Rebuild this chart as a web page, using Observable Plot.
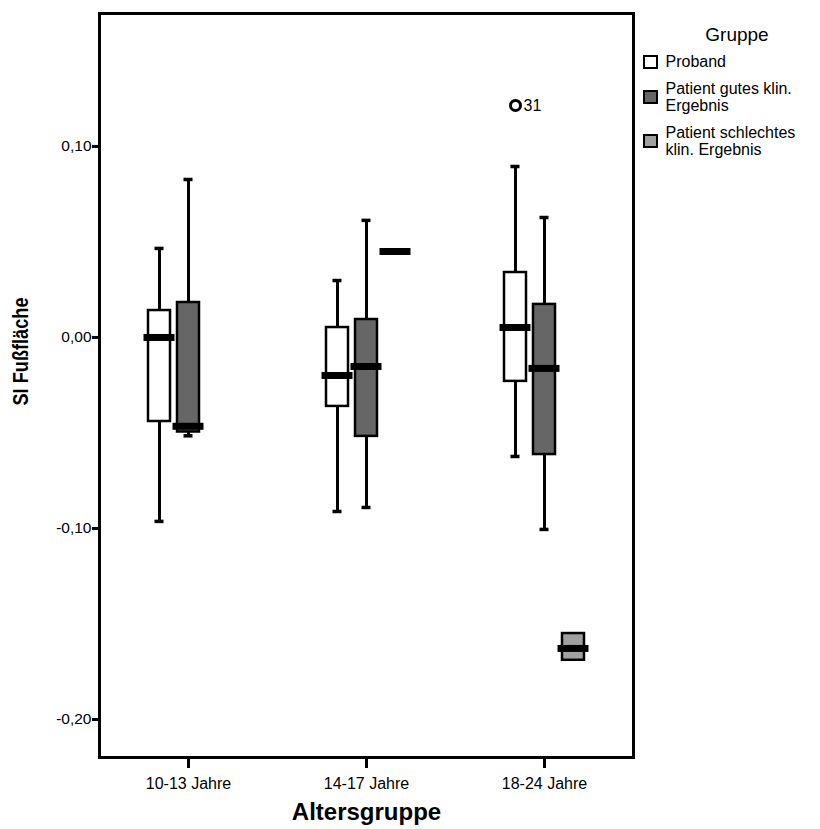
<!DOCTYPE html>
<html>
<head>
<meta charset="utf-8">
<script src="https://cdn.jsdelivr.net/npm/d3@7"></script>
<script src="https://cdn.jsdelivr.net/npm/@observablehq/plot@0.6"></script>
<style>
  body { margin: 0; background: #fff; font-family: "Liberation Sans", Arial, sans-serif; }
  #wrap { position: relative; width: 820px; height: 829px; }
  #legend { position: absolute; left: 643px; top: 22px; width: 177px; color: #000; }
  #legend .title { font-size: 19px; line-height: 26px; text-align: center; width: 188px; margin-bottom: 5px; }
  #legend .item { display: flex; align-items: center; font-size: 16px; line-height: 17.5px; margin-bottom: 9px; white-space: nowrap; }
  #legend .sw { width: 10.5px; height: 10.5px; border: 2.5px solid #000; margin-right: 8px; flex: none; }
</style>
</head>
<body>
<div id="wrap"><div id="chart"></div><div id="legend"></div></div>
<script>
const ages = ["10-13 Jahre", "14-17 Jahre", "18-24 Jahre"];
const groups = ["Proband", "Patient gutes klin. Ergebnis", "Patient schlechtes klin. Ergebnis"];
const groupLegendLines = [["Proband"], ["Patient gutes klin.", "Ergebnis"], ["Patient schlechtes", "klin. Ergebnis"]];
const groupColors = ["#ffffff", "#666666", "#a0a0a0"];

// Per group, per age group: whisker low, Q1, median, Q3, whisker high
const probandLow  = [-0.0963, -0.0911, -0.0623];
const probandQ1   = [-0.0440, -0.0361, -0.0230];
const probandMed  = [ 0.0000, -0.0199,  0.0052];
const probandQ3   = [ 0.0141,  0.0052,  0.0340];
const probandHigh = [ 0.0466,  0.0298,  0.0895];

const gutLow  = [-0.0515, -0.0890, -0.1005];
const gutQ1   = [-0.0495, -0.0518, -0.0613];
const gutMed  = [-0.0465, -0.0152, -0.0162];
const gutQ3   = [ 0.0183,  0.0094,  0.0173];
const gutHigh = [ 0.0827,  0.0613,  0.0628];

const schlechtLow  = [null, null, null];
const schlechtQ1   = [null, 0.0450, -0.1690];
const schlechtMed  = [null, 0.0450, -0.1628];
const schlechtQ3   = [null, 0.0450, -0.1550];
const schlechtHigh = [null, null, null];

const outlierAge = ["18-24 Jahre"];
const outlierGroup = [0];
const outlierValue = [0.1215];
const outlierLabel = ["31"];

const yTicks = [0.10, 0.00, -0.10, -0.20];

const stats = [
  [probandLow, probandQ1, probandMed, probandQ3, probandHigh],
  [gutLow, gutQ1, gutMed, gutQ3, gutHigh],
  [schlechtLow, schlechtQ1, schlechtMed, schlechtQ3, schlechtHigh]
];
const rows = [];
stats.forEach((s, gi) => ages.forEach((age, ai) => {
  if (s[2][ai] == null) return;
  rows.push({age, gi, group: groups[gi], low: s[0][ai], q1: s[1][ai], med: s[2][ai], q3: s[3][ai], high: s[4][ai]});
}));
const outliers = outlierAge.map((age, i) => ({age, gi: outlierGroup[i], v: outlierValue[i], label: outlierLabel[i]}));

const W = 820, H = 829, mL = 99, mR = 187, mT = 13, mB = 72;
const bw = (W - mL - mR) / ages.length;
const step = 29, boxW = 22, medW = 31, capW = 9;

const marks = [];
groups.forEach((g, gi) => {
  const dx = (gi - 1) * step;
  const d = rows.filter(r => r.gi === gi);
  const dw = d.filter(r => r.low != null);
  marks.push(Plot.ruleX(dw, {x: "age", y1: "low", y2: "high", dx, stroke: "#000", strokeWidth: 3}));
  marks.push(Plot.tickY(dw, {x: "age", y: "low", dx, insetLeft: (bw - capW) / 2, insetRight: (bw - capW) / 2, stroke: "#000", strokeWidth: 3.5}));
  marks.push(Plot.tickY(dw, {x: "age", y: "high", dx, insetLeft: (bw - capW) / 2, insetRight: (bw - capW) / 2, stroke: "#000", strokeWidth: 3.5}));
  const db = d.filter(r => r.q3 > r.q1);
  marks.push(Plot.barY(db, {x: "age", y1: "q1", y2: "q3", dx, insetLeft: (bw - boxW) / 2, insetRight: (bw - boxW) / 2, fill: groupColors[gi], stroke: "#000", strokeWidth: 2.5}));
  marks.push(Plot.tickY(d, {x: "age", y: "med", dx, insetLeft: (bw - medW) / 2, insetRight: (bw - medW) / 2, stroke: "#000", strokeWidth: 7}));
});
outliers.forEach(o => {
  const dx = (o.gi - 1) * step;
  marks.push(Plot.dot([o], {x: "age", y: "v", dx, r: 5, fill: "#fff", stroke: "#000", strokeWidth: 3}));
  marks.push(Plot.text([o], {x: "age", y: "v", text: "label", dx: dx + 8, textAnchor: "start", fontSize: 16}));
});

const chart = Plot.plot({
  width: W, height: H,
  marginLeft: mL, marginRight: mR, marginTop: mT, marginBottom: mB,
  style: {fontFamily: '"Liberation Sans", Arial, sans-serif', background: "#fff", color: "#000"},
  x: {domain: ages, padding: 0, axis: null},
  y: {domain: [-0.2199, 0.1696], axis: null},
  marks: [
    ...marks,
    Plot.axisY({ticks: yTicks, tickFormat: d => d.toFixed(2).replace(".", ","), tickSize: 7, tickPadding: 1, fontSize: 15.5, strokeWidth: 3, label: null}),
    Plot.axisX({tickSize: 11, tickPadding: 9, fontSize: 16, strokeWidth: 3, label: null}),
    Plot.text(["SI Fußfläche"], {frameAnchor: "left", text: d => d, rotate: -90, textAnchor: "middle", lineAnchor: "middle", dx: -79, dy: -34, fontWeight: "bold", fontSize: 22, className: "ytitle"}),
    Plot.text(["Altersgruppe"], {frameAnchor: "bottom", text: d => d, textAnchor: "middle", lineAnchor: "middle", dy: 55, fontWeight: "bold", fontSize: 24}),
    Plot.frame({stroke: "#000", strokeWidth: 3})
  ]
});
document.getElementById("chart").appendChild(chart);
// condensed y-axis title as in the reference
chart.querySelectorAll(".ytitle text").forEach(el => {
  el.setAttribute("textLength", "108");
  el.setAttribute("lengthAdjust", "spacingAndGlyphs");
});

const legend = document.getElementById("legend");
const t = document.createElement("div");
t.className = "title"; t.textContent = "Gruppe";
legend.appendChild(t);
groups.forEach((g, gi) => {
  const it = document.createElement("div"); it.className = "item";
  const sw = document.createElement("div"); sw.className = "sw"; sw.style.background = groupColors[gi];
  const tx = document.createElement("div");
  tx.innerHTML = groupLegendLines[gi].join("<br>");
  it.appendChild(sw); it.appendChild(tx);
  legend.appendChild(it);
});
</script>
</body>
</html>
